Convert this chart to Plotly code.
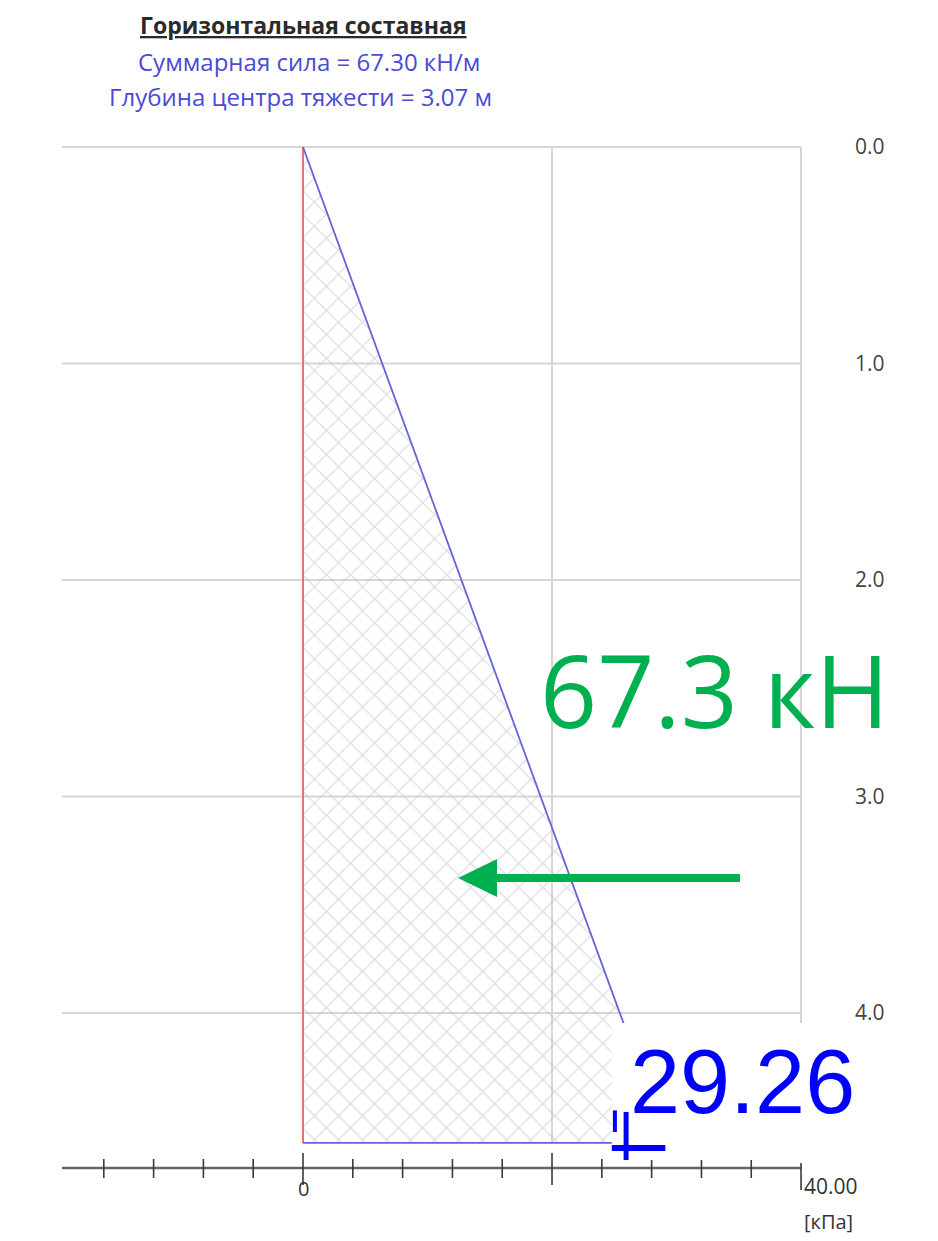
import plotly.graph_objects as go

# ---- data ----
depth = [0.0, 4.6]            # m
pressure = [0.0, 29.26]       # kPa
total_force = 67.30           # kN/m
centroid_depth = 3.07         # m
y_grid = [0, 1, 2, 3, 4]
y_tick_text = ["0.00", "1.00", "2.00", "3.00", "4.00"]
x_grid = [20, 40]
x_minor_ticks = [-16, -12, -8, -4, 4, 8, 12, 16, 24, 28, 32, 36]
x_major_ticks = [0, 20]
x_end_tick = 40
x_axis_left = -19.36
axis_depth = 4.716

# callout / arrow positions (data units)
arrow_tail_x, arrow_tip_x, arrow_y = 35.1, 12.45, 3.376

# plot area in page pixels: 50..812 horizontally, 130..1231 vertically
# (page body has an 8 px margin, so figure margins are reduced by 8)
X0, X1 = -20.32, 40.88
Y0, Y1 = -0.0785, 5.007
px_x = (812 - 50) / (X1 - X0)
px_y = (1231 - 130) / (Y1 - Y0)
dy = lambda p: p / px_y
dx = lambda p: p / px_x

fig = go.Figure()

# gridlines
gx, gy = [], []
for v in y_grid:
    gx += [x_axis_left, x_end_tick, None]
    gy += [v, v, None]
for v in x_grid:
    gx += [v, v, None]
    gy += [depth[0], depth[1], None]
fig.add_trace(go.Scatter(x=gx, y=gy, mode="lines", line=dict(color="#d6d6d6", width=2),
                         hoverinfo="skip", showlegend=False))

# hatched pressure triangle
fig.add_trace(go.Scatter(
    x=[0, pressure[1], 0, 0], y=[depth[0], depth[1], depth[1], depth[0]],
    mode="lines", fill="toself", line=dict(width=0, color="rgba(0,0,0,0)"),
    fillcolor="rgba(255,255,255,0)",
    fillpattern=dict(shape="x", fgcolor="#bdbdbd", bgcolor="rgba(255,255,255,0)", size=17, solidity=0.14),
    hoverinfo="skip", showlegend=False))

# red wall line
fig.add_trace(go.Scatter(x=[0, 0], y=[depth[0], depth[1]], mode="lines",
                         line=dict(color="#e46464", width=1.8), showlegend=False, hoverinfo="skip"))
# blue pressure outline
fig.add_trace(go.Scatter(x=[0, pressure[1], 0], y=[depth[0], depth[1], depth[1]], mode="lines",
                         line=dict(color="#6464d8", width=1.8), showlegend=False, hoverinfo="skip"))

# x axis line
fig.add_trace(go.Scatter(x=[x_axis_left, x_end_tick], y=[axis_depth, axis_depth], mode="lines",
                         line=dict(color="#666666", width=2.5), showlegend=False, hoverinfo="skip"))
# ticks crossing the axis
tx, ty = [], []
for v in x_minor_ticks:
    tx += [v, v, None]; ty += [axis_depth - dy(9), axis_depth + dy(10), None]
for v in x_major_ticks:
    tx += [v, v, None]; ty += [axis_depth - dy(15), axis_depth + dy(17), None]
tx += [x_end_tick, x_end_tick, None]; ty += [axis_depth - dy(5), axis_depth + dy(22), None]
fig.add_trace(go.Scatter(x=tx, y=ty, mode="lines", line=dict(color="#3a3a3a", width=1.6),
                         showlegend=False, hoverinfo="skip"))

shapes = []
# green arrow (shaft + head)
head_len, head_half = dx(39), dy(19)
shapes.append(dict(type="line", xref="x", yref="y", x0=arrow_tail_x, x1=arrow_tip_x + head_len - dx(2),
                   y0=arrow_y, y1=arrow_y, line=dict(color="#00b050", width=8), layer="above"))
shapes.append(dict(type="path", xref="x", yref="y",
                   path=f"M {arrow_tip_x},{arrow_y} L {arrow_tip_x + head_len},{arrow_y - head_half} "
                        f"L {arrow_tip_x + head_len},{arrow_y + head_half} Z",
                   fillcolor="#00b050", line=dict(width=0), layer="above"))
# white callout box with value
shapes.append(dict(type="rect", xref="x", yref="y", x0=24.8, x1=X1, y0=4.046, y1=4.679,
                   fillcolor="white", line=dict(width=0), layer="above"))
shapes.append(dict(type="line", xref="x", yref="y", x0=25.95, x1=25.95, y0=4.457, y1=4.679,
                   line=dict(color="#0000ff", width=5), layer="above"))
shapes.append(dict(type="line", xref="x", yref="y", x0=25.05, x1=25.05, y0=4.45, y1=4.55,
                   line=dict(color="#0000ff", width=4), layer="above"))
shapes.append(dict(type="line", xref="x", yref="y", x0=24.8, x1=29.1, y0=4.624, y1=4.624,
                   line=dict(color="#0000ff", width=6), layer="above"))
# right-edge crop mask
shapes.append(dict(type="rect", xref="paper", yref="paper", x0=(885 - 50) / 762, x1=1.3, y0=-0.05, y1=1.2,
                   fillcolor="white", line=dict(width=0), layer="above"))

fy = lambda py: (1231 - py) / 1101
annotations = [
    dict(text="<b><u>Горизонтальная составная</u></b>", xref="x", x=0, yref="paper", y=fy(25),
         yanchor="middle", showarrow=False, font=dict(family="Open Sans", size=23, color="#2a2a2a")),
    dict(text=f"Суммарная сила = {total_force:.2f} кН/м", xref="x", x=0.5, yref="paper", y=fy(61),
         yanchor="middle", showarrow=False, font=dict(family="Open Sans", size=24, color="#4a4ad4")),
    dict(text=f"Глубина центра тяжести = {centroid_depth:.2f} м", xref="x", x=-0.2, yref="paper", y=fy(97),
         yanchor="middle", showarrow=False, font=dict(family="Open Sans", size=24, color="#4a4ad4")),
    dict(text="0", xref="x", x=0, yref="y", y=4.81, showarrow=False,
         font=dict(family="Open Sans", size=20, color="#333333")),
    dict(text=f"{x_end_tick:.2f}", xref="x", x=40.05, xanchor="left", yref="y", y=4.80, showarrow=False,
         font=dict(family="Open Sans", size=21, color="#333333")),
    dict(text="[кПа]", xref="x", x=40.05, xanchor="left", yref="y", y=4.965, showarrow=False,
         font=dict(family="Open Sans", size=20, color="#333333")),
    dict(text=f"{total_force:.1f} кН", xref="x", x=18.9, xanchor="left", yref="y", y=2.505, showarrow=False,
         font=dict(family="Open Sans", size=100, color="#00b050")),
    dict(text=f"{pressure[1]:.2f}", xref="x", x=26.1, xanchor="left", yref="y", y=4.32, showarrow=False,
         font=dict(family="Liberation Sans", size=90, color="#0000ff")),
]

fig.update_layout(
    width=938, height=1241,
    margin=dict(l=42, r=134, t=122, b=18),
    paper_bgcolor="white", plot_bgcolor="white",
    showlegend=False,
    xaxis=dict(range=[X0, X1], showgrid=False, zeroline=False, showticklabels=False, ticks="",
               showline=False, fixedrange=True),
    yaxis=dict(range=[Y1, Y0], showgrid=False, zeroline=False, side="right", ticks="",
               tickvals=y_grid, ticktext=y_tick_text, ticklabelstandoff=42,
               tickfont=dict(family="Open Sans", size=21, color="#444444"), showline=False, fixedrange=True),
    shapes=shapes, annotations=annotations,
)

fig.write_html("out.html")
